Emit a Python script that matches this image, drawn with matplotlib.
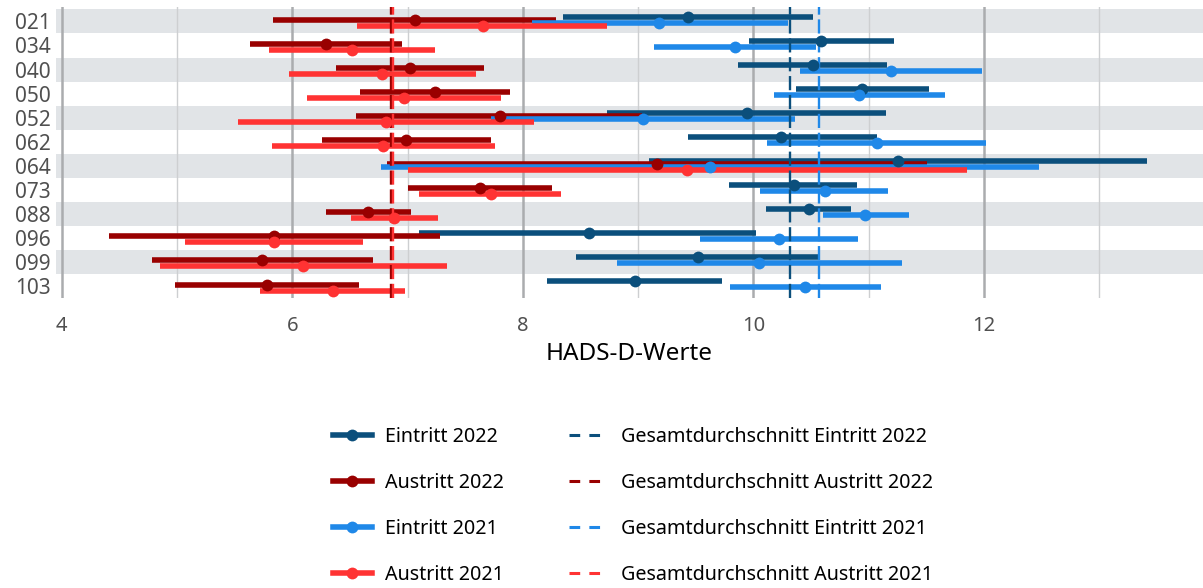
import matplotlib
matplotlib.use("Agg")
import matplotlib.pyplot as plt
from matplotlib.lines import Line2D
import numpy as np

plt.rcParams['font.family'] = ['Noto Sans', 'DejaVu Sans']

categories = ["021", "034", "040", "050", "052", "062", "064", "073", "088", "096", "099", "103"]

# (low, mean, high) per category
eintritt_2022_mean = [9.43, 10.59, 10.52, 10.94, 9.94, 10.24, 11.25, 10.35, 10.48, 8.57, 9.52, 8.97]
eintritt_2022_low  = [8.35, 9.96, 9.87, 10.37, 8.73, 9.43, 9.09, 9.79, 10.11, 7.10, 8.46, 8.21]
eintritt_2022_high = [10.52, 11.22, 11.16, 11.52, 11.15, 11.07, 13.41, 10.90, 10.85, 10.02, 10.56, 9.73]

austritt_2022_mean = [7.06, 6.29, 7.02, 7.24, 7.80, 6.99, 9.16, 7.63, 6.66, 5.84, 5.74, 5.78]
austritt_2022_low  = [5.83, 5.63, 6.38, 6.59, 6.55, 6.26, 6.82, 7.00, 6.29, 4.41, 4.78, 4.98]
austritt_2022_high = [8.29, 6.95, 7.66, 7.89, 9.03, 7.72, 11.51, 8.25, 7.03, 7.28, 6.70, 6.58]

eintritt_2021_mean = [9.18, 9.84, 11.19, 10.92, 9.04, 11.07, 9.62, 10.62, 10.97, 10.22, 10.05, 10.45]
eintritt_2021_low  = [8.08, 9.14, 10.40, 10.18, 7.72, 10.12, 6.77, 10.06, 10.60, 9.54, 8.82, 9.80]
eintritt_2021_high = [10.30, 10.54, 11.98, 11.66, 10.36, 12.02, 12.48, 11.17, 11.35, 10.91, 11.29, 11.11]

austritt_2021_mean = [7.65, 6.52, 6.78, 6.97, 6.81, 6.79, 9.42, 7.72, 6.88, 5.84, 6.09, 6.35]
austritt_2021_low  = [6.56, 5.80, 5.97, 6.13, 5.53, 5.82, 7.00, 7.10, 6.51, 5.07, 4.85, 5.72]
austritt_2021_high = [8.73, 7.24, 7.59, 7.81, 8.10, 7.76, 11.85, 8.33, 7.26, 6.61, 7.34, 6.98]

overall_means = {
    "Eintritt 2022": 10.32,
    "Austritt 2022": 6.86,
    "Eintritt 2021": 10.57,
    "Austritt 2021": 6.87,
}

series_names = ["Eintritt 2022", "Austritt 2022", "Eintritt 2021", "Austritt 2021"]
colors = {
    "Eintritt 2022": "#0b4f7c",
    "Austritt 2022": "#990000",
    "Eintritt 2021": "#1f88e8",
    "Austritt 2021": "#ff3333",
}
offsets = {
    "Eintritt 2022": -0.19,
    "Austritt 2022": -0.06,
    "Eintritt 2021": 0.06,
    "Austritt 2021": 0.19,
}
data = {
    "Eintritt 2022": (eintritt_2022_low, eintritt_2022_mean, eintritt_2022_high),
    "Austritt 2022": (austritt_2022_low, austritt_2022_mean, austritt_2022_high),
    "Eintritt 2021": (eintritt_2021_low, eintritt_2021_mean, eintritt_2021_high),
    "Austritt 2021": (austritt_2021_low, austritt_2021_mean, austritt_2021_high),
}

fig = plt.figure(figsize=(12.03, 5.88), dpi=100)
ax = fig.add_axes([56 / 1203, 1 - 298 / 588, 1 - 56 / 1203, (298 - 7) / 588])

y = np.arange(len(categories))

# background bands
for i in range(0, len(categories), 2):
    ax.axhspan(i - 0.5, i + 0.5, color="#e1e4e7", zorder=0, lw=0)

ax.set_xlim(3.95, 13.9)
ax.set_ylim(len(categories) - 0.5, -0.6)
for v in range(4, 14):
    if v % 2 == 0:
        ax.axvline(v, color="#aaacae", lw=1.8, zorder=0.5)
    else:
        ax.axvline(v, color="#cdcfd1", lw=1.0, zorder=0.5)

lw = 4.0
for name in series_names:
    lo, mid, hi = data[name]
    yy = y + offsets[name]
    ax.hlines(yy, lo, hi, color=colors[name], lw=lw, zorder=2)

for name in series_names:
    ax.axvline(overall_means[name], color=colors[name], lw=1.7,
               linestyle=(0, (6, 2)), zorder=3)

for name in series_names:
    lo, mid, hi = data[name]
    yy = y + offsets[name]
    ax.plot(mid, yy, 'o', color=colors[name], ms=8.5, mec='none', zorder=4)

ax.set_yticks(y)
ax.set_yticklabels(categories, fontsize=15, color="#505050")
ax.set_xticks([4, 6, 8, 10, 12])
ax.set_xticklabels(["4", "6", "8", "10", "12"], fontsize=14.5, color="#505050")
ax.tick_params(axis='both', length=0, pad=4)
ax.tick_params(axis='x', pad=13)
ax.set_xlabel("HADS-D-Werte", fontsize=17.5, labelpad=4)
for s in ax.spines.values():
    s.set_visible(False)

handles = []
labels = []
for name in series_names:
    handles.append(Line2D([], [], color=colors[name], lw=lw, marker='o', ms=8.5, mec='none'))
    labels.append(name)
for name in series_names:
    handles.append(Line2D([], [], color=colors[name], lw=2.2, linestyle=(0, (3.5, 3))))
    labels.append("Gesamtdurchschnitt " + name)

fig.legend(handles, labels, ncol=2, loc='lower center', bbox_to_anchor=(633 / 1203, -0.025),
           frameon=False, fontsize=14.2, labelspacing=1.32, columnspacing=3.3,
           handlelength=2.0, handletextpad=0.65)

fig.savefig("out.png", dpi=100)
